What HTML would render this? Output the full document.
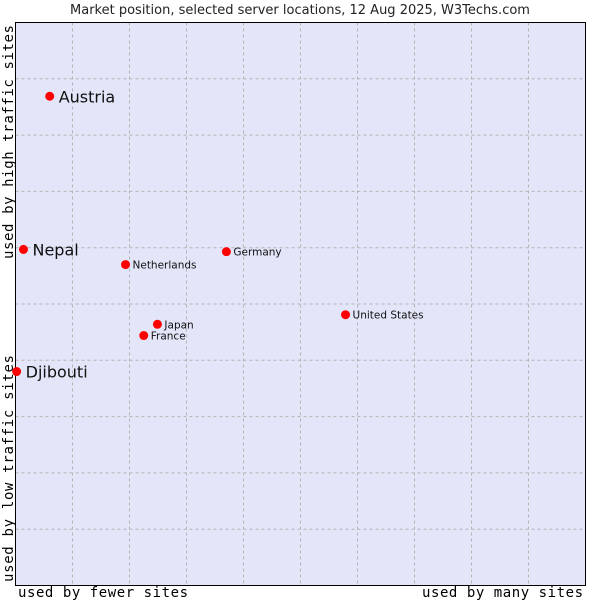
<!DOCTYPE html>
<html><head><meta charset="utf-8"><style>
body{margin:0;background:#fff;}
svg{display:block;font-family:"DejaVu Sans","Liberation Sans",sans-serif;}
</style></head><body>
<svg id="chart" width="600" height="600" xmlns="http://www.w3.org/2000/svg">
<text x="300" y="14" text-anchor="middle" font-size="13" fill="#222">Market position, selected server locations, 12 Aug 2025, W3Techs.com</text>
<rect x="15.5" y="22.5" width="570" height="563" fill="#e3e5f8"/>
<g id="grid"></g>
<rect x="15.5" y="22.5" width="570" height="563" fill="none" stroke="#000" stroke-width="1"/>
<g id="points"></g>
<text x="18" y="597" textLength="170" lengthAdjust="spacing" font-family="'DejaVu Sans Mono','Liberation Mono',monospace" font-size="14" fill="#000">used by fewer sites</text>
<text x="422" y="597" textLength="161" lengthAdjust="spacing" font-family="'DejaVu Sans Mono','Liberation Mono',monospace" font-size="14" fill="#000">used by many sites</text>
<text transform="translate(13,582) rotate(-90)" textLength="227" lengthAdjust="spacing" font-family="'DejaVu Sans Mono','Liberation Mono',monospace" font-size="14" fill="#000">used by low traffic sites</text>
<text transform="translate(13,259) rotate(-90)" textLength="234" lengthAdjust="spacing" font-family="'DejaVu Sans Mono','Liberation Mono',monospace" font-size="14" fill="#000">used by high traffic sites</text>
</svg>
<script>
const names = ["Austria","Nepal","Djibouti","Netherlands","Germany","Japan","France","United States"];
const xValues = [6.0,1.4,0.2,19.3,37.0,24.9,22.5,57.9];
const yValues = [86.9,59.7,38.0,57.0,59.3,46.4,44.4,48.1];
const highlighted = [true,true,true,false,false,false,false,false];
const L=15.5,R=585.5,T=22.5,B=585.5;
function sx(v){return L+(R-L)*v/100;}
function sy(v){return B-(B-T)*v/100;}
const NS="http://www.w3.org/2000/svg";
const grid=document.getElementById('grid');
for(let i=1;i<10;i++){
  const v=document.createElementNS(NS,'line');
  v.setAttribute('x1',sx(i*10));v.setAttribute('x2',sx(i*10));v.setAttribute('y1',T);v.setAttribute('y2',B);
  v.setAttribute('stroke','#b4b4b4');v.setAttribute('stroke-dasharray','3,3');
  
  
  grid.appendChild(v);
  const h=document.createElementNS(NS,'line');
  h.setAttribute('y1',sy(i*10));h.setAttribute('y2',sy(i*10));h.setAttribute('x1',L);h.setAttribute('x2',R);
  h.setAttribute('stroke','#b4b4b4');h.setAttribute('stroke-dasharray','3,3');
  
  
  grid.appendChild(h);
}
const pts=document.getElementById('points');
names.forEach((n,i)=>{
  const x=sx(xValues[i]),y=sy(yValues[i]);
  const c=document.createElementNS(NS,'circle');
  c.setAttribute('cx',x);c.setAttribute('cy',y);c.setAttribute('r',4.5);c.setAttribute('fill','#f00');
  
  
  pts.appendChild(c);
  const t=document.createElementNS(NS,'text');
  const big=highlighted[i];
  t.setAttribute('x',x+(big?9:7));t.setAttribute('y',y+(big?6:4));
  t.setAttribute('font-size',big?16:10.5);t.setAttribute('fill','#111');
  t.textContent=n;
  
  
  pts.appendChild(t);
});
</script>
</body></html>
